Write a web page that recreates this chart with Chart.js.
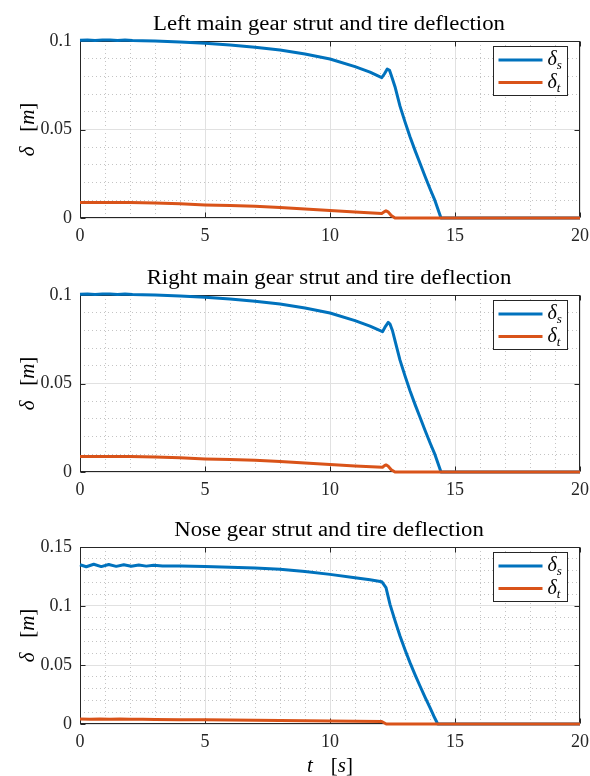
<!DOCTYPE html>
<html>
<head>
<meta charset="utf-8">
<script src="https://cdn.jsdelivr.net/npm/chart.js@4.4.1/dist/chart.umd.min.js"></script>
<style>
  html, body { margin: 0; padding: 0; background: #fff; }
  .panel { position: absolute; left: 0; }
</style>
</head>
<body>
<canvas id="leftGear" class="panel" width="590" height="254" style="top:0px"></canvas>
<canvas id="rightGear" class="panel" width="590" height="254" style="top:254px"></canvas>
<canvas id="noseGear" class="panel" width="590" height="270" style="top:506px"></canvas>
<script>
// ---- time histories (t in s, deflection in m) ----
const leftStrutT = [0, 0.3, 0.6, 0.9, 1.2, 1.5, 1.8, 2.1, 2.5, 3, 4, 5, 6, 7, 8, 9, 10, 11, 11.6, 12.07, 12.18, 12.29, 12.38, 12.47, 12.6, 12.8, 13.0, 13.2, 13.4, 13.6, 13.8, 14.0, 14.2, 14.44, 20];
const leftStrut  = [0.1004, 0.1006, 0.1003, 0.1005, 0.1006, 0.1003, 0.1005, 0.1003, 0.1002, 0.1000, 0.0995, 0.0987, 0.0977, 0.0965, 0.0949, 0.0927, 0.0898, 0.0855, 0.0824, 0.0793, 0.0815, 0.0842, 0.0835, 0.0798, 0.0742, 0.0632, 0.0543, 0.0459, 0.0382, 0.0309, 0.0236, 0.0165, 0.0098, 0, 0];
const leftTireT  = [0, 0.5, 1, 1.5, 2, 2.5, 3, 4, 5, 6, 7, 8, 9, 10, 11, 12.07, 12.17, 12.24, 12.32, 12.45, 12.6, 20];
const leftTire   = [0.0088, 0.0087, 0.0088, 0.0087, 0.0088, 0.0086, 0.0085, 0.0080, 0.0074, 0.0070, 0.0066, 0.0060, 0.0051, 0.0042, 0.0034, 0.0026, 0.0035, 0.0041, 0.0035, 0.0014, 0, 0];

const rightStrutT = [0, 0.3, 0.6, 0.9, 1.2, 1.5, 1.8, 2.1, 2.5, 3, 4, 5, 6, 7, 8, 9, 10, 11, 11.6, 12.1, 12.2, 12.33, 12.4, 12.5, 12.6, 12.8, 13.0, 13.2, 13.4, 13.6, 13.8, 14.0, 14.2, 14.44, 20];
const rightStrut  = [0.1004, 0.1006, 0.1003, 0.1005, 0.1006, 0.1003, 0.1005, 0.1003, 0.1002, 0.1000, 0.0995, 0.0987, 0.0977, 0.0965, 0.0949, 0.0927, 0.0898, 0.0855, 0.0824, 0.0793, 0.0818, 0.0845, 0.0836, 0.0798, 0.0742, 0.0632, 0.0543, 0.0459, 0.0382, 0.0309, 0.0236, 0.0165, 0.0098, 0, 0];
const rightTireT  = [0, 0.5, 1, 1.5, 2, 2.5, 3, 4, 5, 6, 7, 8, 9, 10, 11, 12.1, 12.18, 12.24, 12.32, 12.45, 12.6, 20];
const rightTire   = [0.0088, 0.0087, 0.0088, 0.0087, 0.0088, 0.0086, 0.0085, 0.0080, 0.0074, 0.0070, 0.0066, 0.0060, 0.0051, 0.0042, 0.0034, 0.0027, 0.0036, 0.0040, 0.0034, 0.0013, 0, 0];

const noseStrutT = [0, 0.25, 0.55, 0.85, 1.15, 1.45, 1.75, 2.05, 2.35, 2.65, 2.95, 3.3, 4, 5, 6, 7, 8, 9, 10, 11, 11.6, 12.07, 12.24, 12.4, 12.6, 12.8, 13.0, 13.2, 13.4, 13.6, 13.8, 14.0, 14.15, 14.31, 20];
const noseStrut  = [0.1350, 0.1333, 0.1354, 0.1334, 0.1352, 0.1336, 0.1350, 0.1337, 0.1347, 0.1338, 0.1345, 0.1340, 0.1338, 0.1334, 0.1328, 0.1321, 0.1311, 0.1292, 0.1268, 0.1240, 0.1222, 0.1206, 0.1155, 0.1014, 0.0876, 0.0746, 0.0630, 0.0520, 0.0418, 0.0322, 0.0228, 0.0138, 0.0068, 0, 0];
const noseTireT  = [0, 0.4, 0.8, 1.2, 1.6, 2, 2.5, 3, 4, 5, 6, 7, 8, 9, 10, 11, 12.07, 12.25, 20];
const noseTire   = [0.0042, 0.0040, 0.0043, 0.0040, 0.0042, 0.0040, 0.0041, 0.0039, 0.0037, 0.0035, 0.0033, 0.0031, 0.0029, 0.0027, 0.0025, 0.0023, 0.0021, 0, 0];

// ---- axes ----
const xMajor = [0, 5, 10, 15, 20];
const xMinorStep = 1;
const mainMajor = [0, 0.05, 0.1];
const noseMajor = [0, 0.05, 0.1, 0.15];
const yMinorStep = 0.01;

const SERIF = '"Liberation Serif", "Times New Roman", serif';
const BLUE = '#0072BD';
const ORANGE = '#D95319';
const AXIS = '#262626';
const GRID_MAJOR = '#e1e1e1';
const GRID_MINOR = '#c4c4c4';

function pts(t, v) { return t.map((x, i) => ({ x: x, y: v[i] })); }

function steps(max, step) {
  const out = [];
  const n = Math.round(max / step);
  for (let i = 0; i <= n; i++) out.push(+(i * step).toFixed(4));
  return out;
}

function onList(v, list) { return list.some(m => Math.abs(m - v) < 1e-9); }

// text made of pieces with different fonts (italic symbols, upright brackets),
// centred on x and optionally widened by sx
function drawPieces(ctx, parts, x, y, sx) {
  sx = sx || 1;
  let w = 0;
  parts.forEach(p => {
    ctx.font = p.font;
    p.w = ctx.measureText(p.t).width;
    w += p.w + (p.gap || 0);
  });
  ctx.save();
  ctx.translate(x, y);
  ctx.scale(sx, 1);
  let cx = -w / 2;
  parts.forEach(p => {
    ctx.font = p.font;
    ctx.fillText(p.t, cx, p.dy || 0);
    cx += p.w + (p.gap || 0);
  });
  ctx.restore();
}

const IT = sz => 'italic ' + sz + 'px ' + SERIF;
const UP = sz => sz + 'px ' + SERIF;

const matlabAxes = {
  id: 'matlabAxes',
  beforeDatasetsDraw(chart, args, o) {
    const { ctx, chartArea: a, scales } = chart;
    const L = Math.round(a.left) + 0.5, R = Math.round(a.right) - 0.5;
    const T = Math.round(a.top) + 0.5, B = Math.round(a.bottom) - 0.5;
    ctx.save();
    ctx.strokeStyle = AXIS;
    ctx.lineWidth = 1;
    ctx.strokeRect(L, T, R - L, B - T);
    ctx.beginPath();
    o.xMajor.forEach(v => {
      const x = Math.round(scales.x.getPixelForValue(v)) + 0.5;
      ctx.moveTo(x, B); ctx.lineTo(x, B - 5);
      ctx.moveTo(x, T); ctx.lineTo(x, T + 5);
    });
    o.yMajor.forEach(v => {
      const y = Math.round(scales.y.getPixelForValue(v)) + 0.5;
      ctx.moveTo(L, y); ctx.lineTo(L + 5, y);
      ctx.moveTo(R, y); ctx.lineTo(R - 5, y);
    });
    ctx.stroke();
    ctx.restore();
  },
  afterDraw(chart, args, o) {
    const { ctx, chartArea: a } = chart;
    const midX = (a.left + a.right) / 2;
    ctx.save();
    ctx.fillStyle = '#000';
    ctx.textBaseline = 'alphabetic';
    ctx.textAlign = 'left';

    // title
    drawPieces(ctx, [{ t: o.title, font: UP(20) }], midX - 1, 30, 1.14);

    // y label
    ctx.save();
    ctx.translate(28, (a.top + a.bottom) / 2);
    ctx.rotate(-Math.PI / 2);
    drawPieces(ctx, [
      { t: 'δ', font: IT(20), gap: 14 },
      { t: '[', font: UP(20) },
      { t: 'm', font: IT(20) },
      { t: ']', font: UP(20) }
    ], 0, 6, 1.05);
    ctx.restore();

    // x label
    if (o.xLabel) {
      drawPieces(ctx, [
        { t: 't', font: IT(20), gap: 17 },
        { t: '[', font: UP(20) },
        { t: 's', font: IT(20) },
        { t: ']', font: UP(20) }
      ], midX, a.bottom + 48, 1.05);
    }

    // legend box
    const bw = 74, bh = 49;
    const bx = Math.round(a.right - 13 - bw) + 0.5;
    const by = Math.round(a.top + 5) + 0.5;
    ctx.fillStyle = '#fff';
    ctx.fillRect(bx, by, bw, bh);
    ctx.strokeStyle = AXIS;
    ctx.lineWidth = 1;
    ctx.strokeRect(bx, by, bw, bh);
    chart.data.datasets.forEach((ds, i) => {
      const ly = by + 13.5 + i * 22.5;
      ctx.strokeStyle = ds.borderColor;
      ctx.lineWidth = 3;
      ctx.beginPath();
      ctx.moveTo(bx + 5, ly);
      ctx.lineTo(bx + 49, ly);
      ctx.stroke();
      ctx.fillStyle = '#000';
      ctx.font = IT(20);
      ctx.fillText('δ', bx + 54, ly + 5);
      const dw = ctx.measureText('δ').width;
      ctx.font = IT(13);
      ctx.fillText(ds.sub, bx + 54 + dw, ly + 9);
    });
    ctx.restore();
  }
};

function gridLines(major) {
  return {
    drawTicks: false,
    lineWidth: 1,
    color: c => (c.tick && onList(c.tick.value, major)) ? GRID_MAJOR : GRID_MINOR
  };
}

function gridDash(major) {
  return {
    display: false,
    dash: c => (c.tick && onList(c.tick.value, major)) ? [] : [1, 3]
  };
}

function makePanel(id, title, strutT, strut, tireT, tire, yMax, yMajor, xLabel) {
  const tickFont = { family: SERIF, size: 18 };
  new Chart(document.getElementById(id), {
    type: 'line',
    data: {
      datasets: [
        { label: 'δs', sub: 's', data: pts(strutT, strut), borderColor: BLUE, order: 1 },
        { label: 'δt', sub: 't', data: pts(tireT, tire), borderColor: ORANGE, order: 0 }
      ]
    },
    options: {
      responsive: false,
      animation: false,
      events: [],
      parsing: false,
      datasets: {
        line: { borderWidth: 3, pointRadius: 0, tension: 0, borderJoinStyle: 'round', clip: 4 }
      },
      layout: { padding: { top: 41, right: 10, bottom: xLabel ? 16 : 0, left: 0 } },
      plugins: {
        legend: { display: false },
        tooltip: { enabled: false },
        matlabAxes: { title: title, xMajor: xMajor, yMajor: yMajor, xLabel: xLabel }
      },
      scales: {
        x: {
          type: 'linear',
          min: 0,
          max: 20,
          afterFit: s => { s.height = 36; s.paddingLeft = 0; s.paddingRight = 0; },
          afterBuildTicks: s => { s.ticks = steps(20, xMinorStep).map(v => ({ value: v })); },
          grid: gridLines(xMajor),
          border: gridDash(xMajor),
          ticks: {
            autoSkip: false,
            maxRotation: 0,
            padding: 7,
            color: AXIS,
            font: tickFont,
            callback: v => onList(v, xMajor) ? String(v) : ''
          }
        },
        y: {
          type: 'linear',
          min: 0,
          max: yMax,
          afterFit: s => { s.width = 80; s.paddingTop = 0; s.paddingBottom = 0; },
          afterBuildTicks: s => { s.ticks = steps(yMax, yMinorStep).map(v => ({ value: v })); },
          grid: gridLines(yMajor),
          border: gridDash(yMajor),
          ticks: {
            autoSkip: false,
            padding: 8,
            color: AXIS,
            font: tickFont,
            callback: v => onList(v, yMajor) ? String(v) : ''
          }
        }
      }
    },
    plugins: [matlabAxes]
  });
}

makePanel('leftGear', 'Left main gear strut and tire deflection', leftStrutT, leftStrut, leftTireT, leftTire, 0.1, mainMajor, false);
makePanel('rightGear', 'Right main gear strut and tire deflection', rightStrutT, rightStrut, rightTireT, rightTire, 0.1, mainMajor, false);
makePanel('noseGear', 'Nose gear strut and tire deflection', noseStrutT, noseStrut, noseTireT, noseTire, 0.15, noseMajor, true);
</script>
</body>
</html>
